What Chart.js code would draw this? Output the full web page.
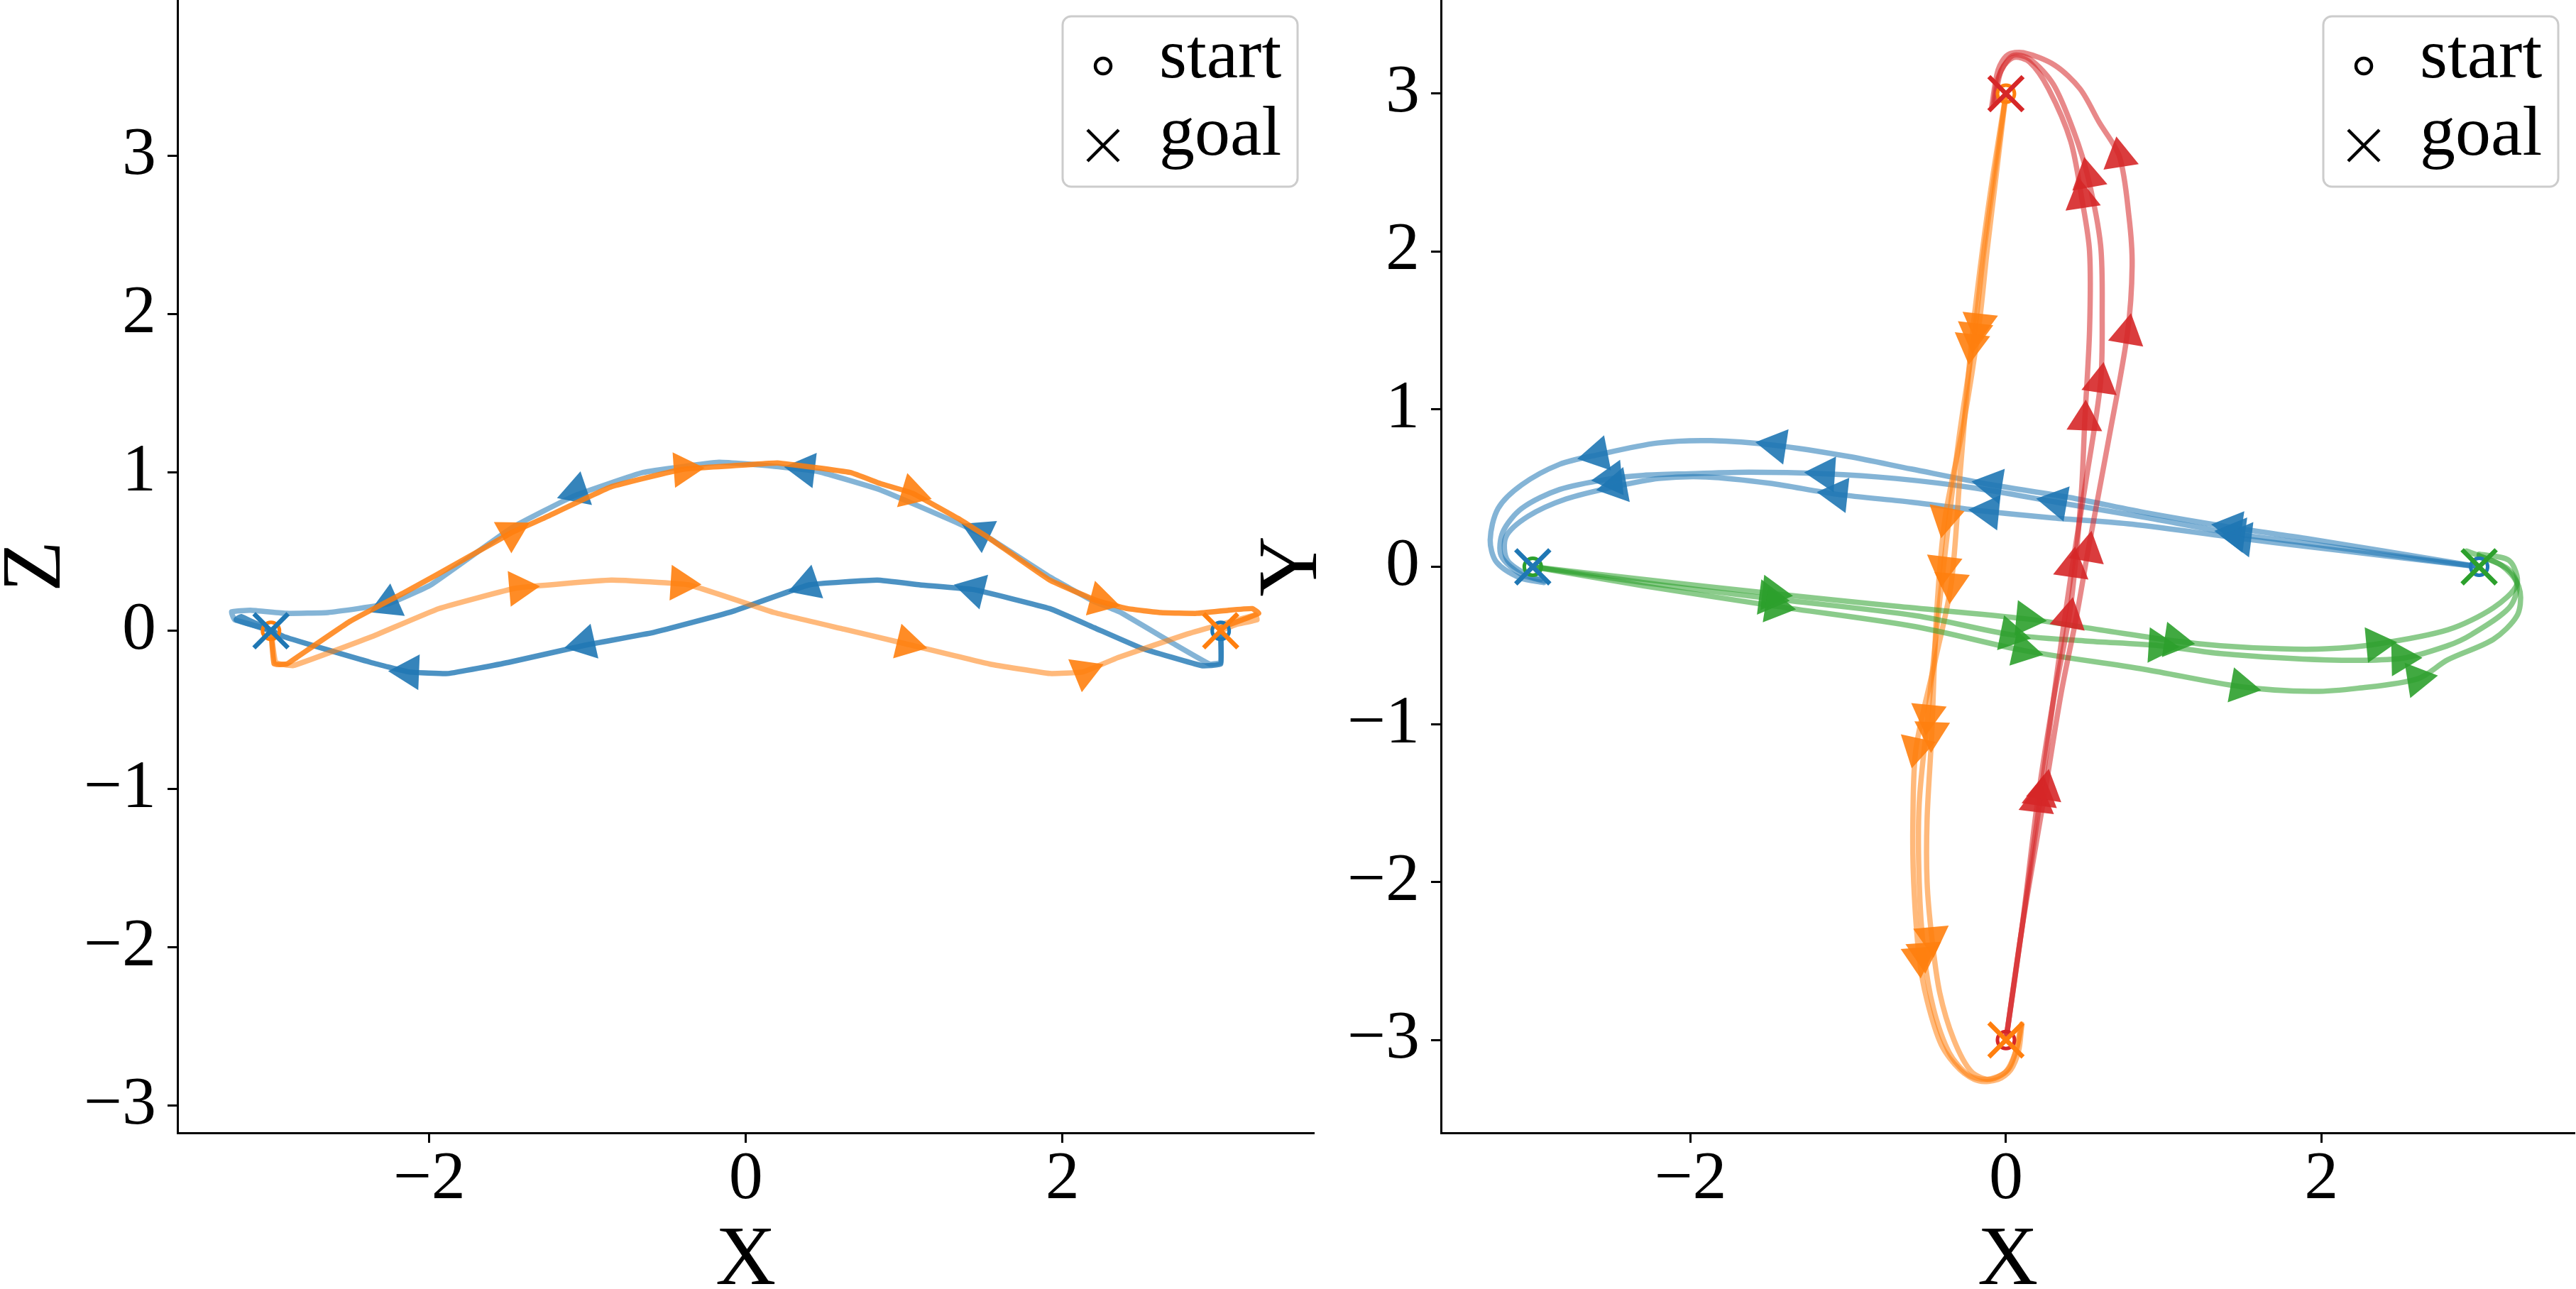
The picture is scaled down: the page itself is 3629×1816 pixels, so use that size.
<!DOCTYPE html>
<html>
<head>
<meta charset="utf-8">
<title>Start / goal trajectories</title>
<script src="https://cdn.jsdelivr.net/npm/chart.js@4.4.1/dist/chart.umd.min.js"></script>
<style>
  body { margin: 0; background: #fff; }
  .panel { position: absolute; top: 0; height: 1816px; }
</style>
</head>
<body>
<div class="panel" style="left:0;width:1860px"><canvas id="xzChart"></canvas></div>
<div class="panel" style="left:1770px;width:1859px"><canvas id="xyChart"></canvas></div>
<script>
// ---- tick labels ----
const xTicks = [-2, 0, 2];
const zTicks = [-3, -2, -1, 0, 1, 2, 3];
const yTicks = [-3, -2, -1, 0, 1, 2, 3];

// ---- left panel (X-Z): paths, [x, z] ----
const xzBlueHigh = [[3.0,0.0],[3.0,-0.2],[2.93,-0.21],[2.7,-0.08],[2.36,0.12],[2.19,0.19],[1.92,0.34],[1.53,0.59],[1.34,0.68],[0.85,0.89],[0.46,1.005],[0.17,1.04],[-0.17,1.065],[-0.65,1.0],[-1.09,0.85],[-1.48,0.65],[-1.99,0.29],[-2.26,0.17],[-2.64,0.115],[-2.9,0.11],[-3.13,0.13],[-3.25,0.12],[-3.23,0.07],[-3.05,0.02],[-2.98,0.0]];
const xzBlueLow = [[3.0,0.0],[3.0,-0.21],[2.88,-0.22],[2.5,-0.11],[2.2,0.02],[1.92,0.14],[1.44,0.26],[1.1,0.29],[0.83,0.32],[0.4,0.29],[-0.09,0.12],[-0.58,-0.01],[-1.01,-0.09],[-1.5,-0.2],[-1.88,-0.27],[-2.13,-0.26],[-2.37,-0.2],[-2.91,-0.04],[-3.19,0.09],[-3.22,0.07],[-3.1,0.03],[-3.0,0.0]];
const xzOrangeHigh = [[-3.0,0.0],[-2.98,-0.21],[-2.9,-0.21],[-2.84,-0.17],[-2.5,0.06],[-2.16,0.24],[-1.96,0.35],[-1.48,0.62],[-1.28,0.71],[-0.85,0.91],[-0.4,1.02],[0.03,1.05],[0.2,1.06],[0.66,1.0],[0.85,0.93],[1.05,0.87],[1.34,0.71],[1.53,0.59],[1.92,0.32],[2.22,0.19],[2.41,0.14],[2.62,0.115],[2.85,0.11],[3.05,0.13],[3.2,0.14],[3.24,0.11],[3.14,0.07],[3.0,0.02]];
const xzOrangeLow = [[-3.0,0.0],[-2.97,-0.2],[-2.86,-0.22],[-2.37,-0.04],[-1.94,0.14],[-1.45,0.27],[-0.85,0.32],[-0.36,0.29],[0.18,0.115],[0.62,0.01],[1.0,-0.08],[1.54,-0.21],[1.92,-0.27],[2.13,-0.26],[2.35,-0.17],[2.79,-0.02],[3.22,0.1],[3.23,0.07],[3.1,0.04],[3.0,0.0]];
const xzBlueHighArrows = [[1.48,0.62],[0.37,1.02],[-1.07,0.88],[-2.26,0.17]];
const xzBlueLowArrows = [[1.44,0.26],[0.39,0.29],[-1.02,-0.08],[-2.13,-0.26]];
const xzOrangeHighArrows = [[-1.48,0.62],[-0.39,1.02],[1.05,0.87],[2.24,0.19]];
const xzOrangeLowArrows = [[-1.43,0.27],[-0.41,0.3],[1.02,-0.08],[2.14,-0.26]];

// ---- right panel (X-Y): three runs per goal, [x, y] ----
const xyBlue1 = [[3.0,0.0],[2.4,0.1],[1.9,0.18],[1.43,0.25],[0.9,0.34],[0.4,0.44],[-0.09,0.52],[-0.6,0.62],[-1.0,0.7],[-1.46,0.77],[-1.87,0.8],[-2.21,0.785],[-2.59,0.71],[-2.83,0.65],[-3.07,0.52],[-3.22,0.37],[-3.27,0.17],[-3.23,0.03],[-3.08,-0.07],[-2.93,-0.1]];
const xyBlue2 = [[3.0,0.0],[2.4,0.08],[1.9,0.15],[1.45,0.21],[0.9,0.31],[0.32,0.41],[-0.2,0.5],[-0.7,0.56],[-1.15,0.59],[-1.63,0.6],[-2.01,0.59],[-2.3,0.58],[-2.5,0.56],[-2.83,0.49],[-3.07,0.37],[-3.19,0.22],[-3.2,0.07],[-3.07,-0.05],[-2.95,-0.08]];
const xyBlue3 = [[3.0,0.0],[2.4,0.07],[1.9,0.13],[1.49,0.18],[0.8,0.27],[0.3,0.31],[-0.11,0.35],[-0.6,0.41],[-1.07,0.46],[-1.5,0.53],[-1.9,0.57],[-2.2,0.56],[-2.47,0.51],[-2.79,0.43],[-3.03,0.32],[-3.17,0.19],[-3.16,0.04],[-3.0,-0.07],[-2.93,-0.09]];
const xyOrange1 = [[0.0,3.0],[-0.06,2.5],[-0.12,2.0],[-0.17,1.54],[-0.27,0.9],[-0.386,0.31],[-0.44,-0.3],[-0.47,-1.05],[-0.5,-1.6],[-0.5,-2.0],[-0.47,-2.35],[-0.42,-2.7],[-0.33,-3.0],[-0.22,-3.2],[-0.1,-3.25],[0.02,-3.18],[0.08,-3.0],[0.1,-2.9]];
const xyOrange2 = [[0.0,3.0],[-0.07,2.5],[-0.14,2.0],[-0.2,1.48],[-0.3,0.8],[-0.396,0.0],[-0.45,-0.5],[-0.495,-0.94],[-0.55,-1.5],[-0.55,-2.0],[-0.52,-2.45],[-0.46,-2.8],[-0.36,-3.08],[-0.24,-3.22],[-0.12,-3.25],[0.0,-3.2],[0.07,-3.05],[0.09,-2.92]];
const xyOrange3 = [[0.0,3.0],[-0.08,2.5],[-0.15,2.0],[-0.22,1.41],[-0.29,0.6],[-0.347,-0.107],[-0.45,-0.6],[-0.57,-1.15],[-0.59,-1.6],[-0.585,-2.0],[-0.55,-2.48],[-0.5,-2.75],[-0.41,-3.03],[-0.29,-3.19],[-0.17,-3.26],[-0.05,-3.25],[0.03,-3.19],[0.08,-3.07],[0.1,-2.91]];
const xyGreen1 = [[-3.0,0.0],[-2.3,-0.08],[-1.48,-0.17],[-0.7,-0.25],[0.13,-0.33],[0.6,-0.4],[1.07,-0.47],[1.36,-0.5],[1.74,-0.52],[2.03,-0.52],[2.35,-0.49],[2.8,-0.4],[3.09,-0.26],[3.24,-0.11],[3.19,0.04],[3.0,0.08]];
const xyGreen2 = [[-3.0,0.0],[-2.3,-0.1],[-1.5,-0.2],[-0.57,-0.31],[0.03,-0.43],[0.5,-0.47],[0.97,-0.5],[1.36,-0.55],[2.03,-0.59],[2.51,-0.58],[2.8,-0.5],[2.95,-0.43],[3.19,-0.26],[3.24,-0.11],[3.14,0.01],[3.0,0.07]];
const xyGreen3 = [[-3.0,0.0],[-2.3,-0.12],[-1.46,-0.25],[-0.57,-0.38],[0.11,-0.53],[0.877,-0.65],[1.49,-0.76],[1.94,-0.79],[2.23,-0.77],[2.61,-0.71],[2.8,-0.59],[3.09,-0.46],[3.24,-0.31],[3.26,-0.16],[3.19,-0.02],[3.0,0.07],[2.92,0.1]];
const xyRed1 = [[0.0,-3.0],[0.1,-2.3],[0.2,-1.49],[0.3,-0.85],[0.4,-0.32],[0.44,0.02],[0.48,0.5],[0.5,0.93],[0.53,1.5],[0.53,2.0],[0.48,2.34],[0.41,2.7],[0.27,3.03],[0.15,3.2],[0.05,3.23],[-0.03,3.15],[-0.07,2.95]];
const xyRed2 = [[0.0,-3.0],[0.1,-2.3],[0.22,-1.45],[0.32,-0.7],[0.42,0.0],[0.5,0.5],[0.6,1.17],[0.61,1.6],[0.6,2.04],[0.52,2.47],[0.43,2.76],[0.3,3.06],[0.15,3.22],[0.04,3.24],[-0.05,3.1],[-0.08,2.93]];
const xyRed3 = [[0.0,-3.0],[0.1,-2.3],[0.25,-1.41],[0.35,-0.8],[0.45,-0.3],[0.52,0.1],[0.65,0.8],[0.77,1.48],[0.8,1.91],[0.78,2.22],[0.72,2.6],[0.59,2.82],[0.47,3.03],[0.31,3.18],[0.11,3.26],[0.01,3.245],[-0.05,3.15],[-0.09,2.92]];
const xyBlue1Arrows = [[1.43,0.25],[-0.09,0.52],[-1.46,0.77],[-2.59,0.71]];
const xyBlue2Arrows = [[1.45,0.21],[0.32,0.41],[-1.15,0.59],[-2.5,0.56]];
const xyBlue3Arrows = [[1.49,0.18],[-0.11,0.35],[-1.07,0.46],[-2.47,0.51]];
const xyOrange1Arrows = [[-0.17,1.54],[-0.386,0.31],[-0.47,-1.05],[-0.47,-2.35]];
const xyOrange2Arrows = [[-0.2,1.48],[-0.396,0.0],[-0.495,-0.94],[-0.52,-2.45]];
const xyOrange3Arrows = [[-0.22,1.41],[-0.347,-0.107],[-0.57,-1.15],[-0.55,-2.48]];
const xyGreen1Arrows = [[-1.48,-0.17],[0.13,-0.33],[1.07,-0.47],[2.35,-0.49]];
const xyGreen2Arrows = [[-1.5,-0.2],[0.03,-0.43],[0.97,-0.5],[2.51,-0.58]];
const xyGreen3Arrows = [[-1.46,-0.25],[0.11,-0.53],[1.49,-0.76],[2.61,-0.71]];
const xyRed1Arrows = [[0.2,-1.49],[0.4,-0.32],[0.5,0.93],[0.48,2.34]];
const xyRed2Arrows = [[0.22,-1.45],[0.42,0.0],[0.6,1.17],[0.52,2.47]];
const xyRed3Arrows = [[0.25,-1.41],[0.52,0.1],[0.77,1.48],[0.72,2.6]];

// start (o) and goal (x) of each colour
const xzStarts = { blue: [3, 0], orange: [-3, 0] };
const xzGoals = { blue: [-3, 0], orange: [3, 0] };
const xyStarts = { blue: [3, 0], orange: [0, 3], green: [-3, 0], red: [0, -3] };
const xyGoals = { blue: [-3, 0], orange: [0, -3], green: [3, 0], red: [0, 3] };

const COLORS = { blue: [31,119,180], orange: [255,127,14], green: [44,160,44], red: [214,39,40] };
const rgba = (name, a) => `rgba(${COLORS[name].join(',')},${a})`;
const pts = arr => arr.map(([x, y]) => ({ x, y }));
const fmt = v => (v < 0 ? '\u2212' + Math.abs(v) : String(v));

Chart.defaults.font.family = "'Liberation Serif', 'DejaVu Serif', serif";
Chart.defaults.color = '#000';

// heading of the path at p, as a point rotation in degrees (triangle points up at 0)
function headingAt(path, p) {
    let best = Infinity, dir = [1, 0];
    for (let i = 0; i < path.length - 1; i++) {
        const a = path[i], b = path[i + 1];
        const vx = b[0] - a[0], vy = b[1] - a[1];
        const len2 = vx * vx + vy * vy || 1e-9;
        let t = ((p[0] - a[0]) * vx + (p[1] - a[1]) * vy) / len2;
        t = Math.max(0, Math.min(1, t));
        const dx = a[0] + t * vx - p[0], dy = a[1] + t * vy - p[1];
        const d = dx * dx + dy * dy;
        if (d < best - 1e-12) { best = d; dir = [vx, vy]; }
    }
    return Math.atan2(dir[0], dir[1]) * 180 / Math.PI;
}

function trail(path, color, alpha, width, tension) {
    return { data: pts(path), showLine: true, borderColor: rgba(color, alpha), borderWidth: width,
             pointRadius: 0, tension, borderCapStyle: 'round', borderJoinStyle: 'round' };
}
function arrows(path, marks, color) {
    return { data: pts(marks), showLine: false, pointStyle: 'triangle', pointRadius: 29,
             pointRotation: marks.map(p => headingAt(path, p)),
             pointBackgroundColor: rgba(color, 0.9), pointBorderWidth: 0 };
}
function markerSets(starts, goals) {
    const out = [];
    for (const c in starts) out.push({ data: pts([starts[c]]), pointStyle: 'circle', pointRadius: 12,
        pointBackgroundColor: 'rgba(0,0,0,0)', pointBorderColor: rgba(c, 1), pointBorderWidth: 5 });
    for (const c in goals) out.push({ data: pts([goals[c]]), pointStyle: 'crossRot', pointRadius: 34,
        pointBorderColor: rgba(c, 1), pointBorderWidth: 6.5 });
    return out;
}
// later entries end up on top, like matplotlib
function stack(list) {
    list.forEach((d, i) => { d.order = list.length - i; });
    return list;
}

// legend drawn inside the axes, upper right
const insideLegend = {
    id: 'insideLegend',
    afterDraw(chart) {
        const { ctx, chartArea } = chart;
        const w = 331, h = 240, r = 12;
        const x0 = chartArea.right - 23 - w, y0 = chartArea.top + 23;
        ctx.save();
        ctx.beginPath();
        ctx.moveTo(x0 + r, y0);
        ctx.arcTo(x0 + w, y0, x0 + w, y0 + h, r);
        ctx.arcTo(x0 + w, y0 + h, x0, y0 + h, r);
        ctx.arcTo(x0, y0 + h, x0, y0, r);
        ctx.arcTo(x0, y0, x0 + w, y0, r);
        ctx.closePath();
        ctx.fillStyle = 'rgba(255,255,255,0.8)';
        ctx.fill();
        ctx.lineWidth = 3;
        ctx.strokeStyle = '#cccccc';
        ctx.stroke();

        ctx.strokeStyle = '#000';
        ctx.lineWidth = 4.5;
        ctx.beginPath();
        ctx.arc(x0 + 57, y0 + 70, 11, 0, Math.PI * 2);
        ctx.stroke();
        const cx = x0 + 57, cy = y0 + 182, s = 22;
        ctx.beginPath();
        ctx.moveTo(cx - s, cy - s); ctx.lineTo(cx + s, cy + s);
        ctx.moveTo(cx - s, cy + s); ctx.lineTo(cx + s, cy - s);
        ctx.stroke();

        ctx.fillStyle = '#000';
        ctx.font = "100px 'Liberation Serif', 'DejaVu Serif', serif";
        ctx.textBaseline = 'alphabetic';
        ctx.textAlign = 'left';
        ctx.fillText('start', x0 + 136, y0 + 86);
        ctx.fillText('goal', x0 + 136, y0 + 195);
        ctx.restore();
    }
};

function axis(min, max, ticks, title, isX, size) {
    return {
        type: 'linear', min, max,
        afterBuildTicks: s => { s.ticks = ticks.map(v => ({ value: v })); },
        afterFit: s => {
            if (isX) s.height = size; else s.width = size;
            s.paddingTop = 0; s.paddingBottom = 0; s.paddingLeft = 0; s.paddingRight = 0;
        },
        grid: { display: true, drawOnChartArea: false, drawTicks: true, tickLength: 14, tickWidth: 3, tickColor: '#000' },
        border: { display: true, color: '#000', width: 3 },
        ticks: { color: '#000', font: { size: 96, lineHeight: isX ? 1.05 : 1.2 }, padding: isX ? 2 : 16,
                 maxRotation: 0, autoSkip: false, callback: v => fmt(v) },
        title: { display: true, text: title, color: '#000', padding: 0,
                 font: { size: 118, lineHeight: isX ? 0.65 : 0.9 } }
    };
}

function makeChart(id, datasets, xRange, yRange, yTitle, yTickList, yWidth, padRight) {
    return new Chart(document.getElementById(id), {
        type: 'scatter',
        data: { datasets },
        options: {
            responsive: true, maintainAspectRatio: false, animation: false, events: [],
            layout: { autoPadding: false, padding: { left: 0, top: 0, right: padRight, bottom: 0 } },
            scales: {
                x: axis(xRange[0], xRange[1], xTicks, 'X', true, 220),
                y: axis(yRange[0], yRange[1], yTickList, yTitle, false, yWidth)
            },
            plugins: { legend: { display: false }, tooltip: { enabled: false } }
        },
        plugins: [insideLegend]
    });
}

window.addEventListener('DOMContentLoaded', () => {
    const left = stack([
        trail(xzBlueHigh, 'blue', 0.55, 7.5, 0.1), arrows(xzBlueHigh, xzBlueHighArrows, 'blue'),
        trail(xzBlueLow, 'blue', 0.8, 7.5, 0.1), arrows(xzBlueLow, xzBlueLowArrows, 'blue'),
        trail(xzOrangeHigh, 'orange', 0.85, 7.5, 0.1), arrows(xzOrangeHigh, xzOrangeHighArrows, 'orange'),
        trail(xzOrangeLow, 'orange', 0.55, 7.5, 0.1), arrows(xzOrangeLow, xzOrangeLowArrows, 'orange'),
        ...markerSets(xzStarts, xzGoals)
    ]);
    makeChart('xzChart', left, [-3.591, 3.589], [-3.172, 3.985], 'Z', zTicks, 250, 9);

    const runs = [
        ['blue', xyBlue1, xyBlue1Arrows], ['blue', xyBlue2, xyBlue2Arrows], ['blue', xyBlue3, xyBlue3Arrows],
        ['orange', xyOrange1, xyOrange1Arrows], ['orange', xyOrange2, xyOrange2Arrows], ['orange', xyOrange3, xyOrange3Arrows],
        ['green', xyGreen1, xyGreen1Arrows], ['green', xyGreen2, xyGreen2Arrows], ['green', xyGreen3, xyGreen3Arrows],
        ['red', xyRed1, xyRed1Arrows], ['red', xyRed2, xyRed2Arrows], ['red', xyRed3, xyRed3Arrows]
    ];
    const right = [];
    runs.forEach(([c, path, marks]) => { right.push(trail(path, c, 0.55, 7.5, 0.3), arrows(path, marks, c)); });
    right.push(...markerSets(xyStarts, xyGoals));
    makeChart('xyChart', stack(right), [-3.582, 3.605], [-3.589, 3.594], 'Y', yTicks, 260, 2);
});
</script>
</body>
</html>
